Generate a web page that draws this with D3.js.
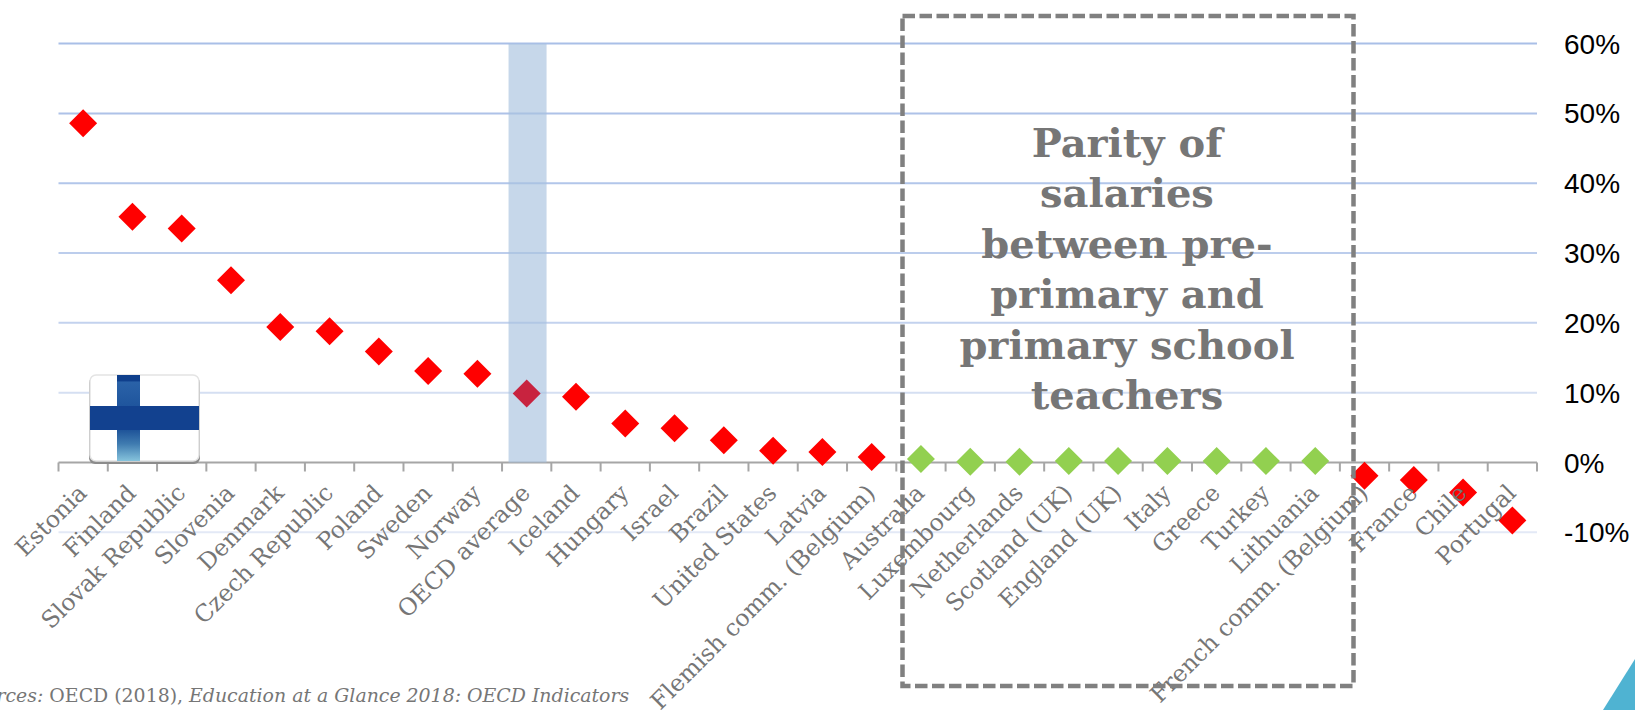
<!DOCTYPE html>
<html>
<head>
<meta charset="utf-8">
<script src="https://cdn.jsdelivr.net/npm/d3@7/dist/d3.min.js"></script>
<style>
html,body{margin:0;padding:0;background:#fff;overflow:hidden}
svg{display:block}
</style>
</head>
<body>
<svg id="chart" width="1635" height="710"></svg>
<script>
const countries = ["Estonia","Finland","Slovak Republic","Slovenia","Denmark","Czech Republic","Poland","Sweden","Norway","OECD average","Iceland","Hungary","Israel","Brazil","United States","Latvia","Flemish comm. (Belgium)","Australia","Luxembourg","Netherlands","Scotland (UK)","England (UK)","Italy","Greece","Turkey","Lithuania","French comm. (Belgium)","France","Chile","Portugal"];
const salaryGap = [48.6,35.2,33.5,26.1,19.4,18.8,15.9,13.1,12.7,9.9,9.4,5.6,4.9,3.2,1.7,1.5,0.8,0.5,0.1,0.1,0.2,0.2,0.2,0.2,0.2,0.2,-1.9,-2.5,-4.3,-8.3];
const parityCountries = ["Australia","Luxembourg","Netherlands","Scotland (UK)","England (UK)","Italy","Greece","Turkey","Lithuania"];
const yTicks = [-10,0,10,20,30,40,50,60];
const gridColours = {"-10":"#e3e9f6","10":"#d5dff2","20":"#c3d2ee","30":"#bccdec","40":"#b2c6ea","50":"#aec2e8","60":"#a9bfe7"};
const parityTitle = ["Parity of","salaries","between pre-","primary and","primary school","teachers"];

const left = 58.5, right = 1537, y60 = 43.6, y0 = 462.5;
const x = d3.scaleBand().domain(countries).range([left, right]);
const y = d3.scaleLinear().domain([0, 60]).range([y0, y60]);
const svg = d3.select("#chart");
const serif = "'DejaVu Serif','Liberation Serif',serif";

// Horizontal gridlines, fading towards the axis
svg.append("g").selectAll("line").data(yTicks.filter(t => t !== 0)).join("line")
  .attr("x1", left).attr("x2", right)
  .attr("y1", d => y(d)).attr("y2", d => y(d))
  .attr("stroke", d => gridColours[d]).attr("stroke-width", 2);

// Category axis at zero with outward ticks
const xAxis = d3.axisBottom(x).tickSize(9).tickFormat("");
const axisG = svg.append("g").attr("transform", `translate(0,${y0})`).call(xAxis);
axisG.select(".domain").attr("stroke", "#a6a6a6").attr("stroke-width", 2).attr("d", `M${left},0H${right}`);
axisG.selectAll(".tick").remove();
axisG.selectAll("line.edge").data(d3.range(countries.length + 1)).join("line")
  .attr("class", "edge")
  .attr("x1", i => left + i * x.step()).attr("x2", i => left + i * x.step())
  .attr("y1", 0).attr("y2", 9)
  .attr("stroke", "#a6a6a6").attr("stroke-width", 2);

// Highlight band behind the OECD average
svg.append("rect")
  .attr("x", x("OECD average") + 6.5).attr("width", 38)
  .attr("y", y(60)).attr("height", y(0) - y(60))
  .attr("fill", "#a8c2de").attr("opacity", 0.65);

// Finnish flag badge
const defs = svg.append("defs");
const fade = defs.append("linearGradient").attr("id", "crossFade").attr("x1", 0).attr("y1", 0).attr("x2", 0).attr("y2", 1);
[[0,"#0f3f8c"],[0.07,"#0f3f8c"],[0.08,"#2a62a8"],[0.6,"#164a94"],[0.8,"#3f7bb0"],[1,"#86c3dc"]].forEach(s =>
  fade.append("stop").attr("offset", s[0]).attr("stop-color", s[1]));
const flag = svg.append("g").attr("transform", "translate(90,375)");
flag.append("rect").attr("x", -1).attr("y", 2).attr("width", 111).attr("height", 87).attr("rx", 6).attr("fill", "#8c8c8c");
flag.append("rect").attr("width", 109).attr("height", 86).attr("rx", 6).attr("fill", "#fff").attr("stroke", "#e4e4e4").attr("stroke-width", 1.5);
flag.append("rect").attr("x", 27).attr("y", 0).attr("width", 23).attr("height", 86).attr("fill", "url(#crossFade)");
flag.append("rect").attr("x", 0).attr("y", 31).attr("width", 109).attr("height", 24).attr("fill", "#12418f");

// Diamond markers
svg.append("g").selectAll("path").data(countries).join("path")
  .attr("d", d3.symbol(d3.symbolSquare, 392))
  .attr("transform", (d, i) => `translate(${x(d) + x.bandwidth() / 2},${y(salaryGap[i])}) rotate(45)`)
  .attr("fill", d => d === "OECD average" ? "#c8233f" : parityCountries.includes(d) ? "#92d050" : "#ff0000");

// Rotated category labels
svg.append("g").selectAll("text").data(countries).join("text")
  .attr("transform", d => `translate(${x(d) + x.bandwidth() / 2 + 5},${y0 + 32}) rotate(-45)`)
  .attr("text-anchor", "end")
  .attr("font-family", serif).attr("font-size", 23.5).attr("fill", "#767676")
  .text(d => d);

// Percentage scale on the right
svg.append("g").selectAll("text").data(yTicks).join("text")
  .attr("x", 1564).attr("y", d => y(d)).attr("dy", "0.36em")
  .attr("font-family", "'Liberation Sans',Arial,sans-serif").attr("font-size", 28).attr("fill", "#000")
  .text(d => d + "%");

// Dashed frame around the parity group
svg.append("rect").attr("x", 902.5).attr("y", 16).attr("width", 451).attr("height", 670)
  .attr("fill", "none").attr("stroke", "#808080").attr("stroke-width", 4.5).attr("stroke-dasharray", "12.5 4.5");

// Frame caption
svg.append("g").selectAll("text").data(parityTitle).join("text")
  .attr("x", 1127).attr("y", (d, i) => 157 + i * 50.4)
  .attr("text-anchor", "middle")
  .attr("font-family", serif).attr("font-weight", "bold").attr("font-size", 40).attr("fill", "#767676")
  .text(d => d);

// Source line, running off the left edge
const source = svg.append("text").attr("x", -40).attr("y", 702)
  .attr("font-family", serif).attr("font-size", 18.9).attr("fill", "#767676");
source.append("tspan").attr("font-style", "italic").text("Sources:");
source.append("tspan").text(" OECD (2018), ");
source.append("tspan").attr("font-style", "italic").text("Education at a Glance 2018: OECD Indicators");

// Corner accent
svg.append("path").attr("d", "M1635,659L1603,710H1635Z").attr("fill", "#4fb3d2");
</script>
</body>
</html>
